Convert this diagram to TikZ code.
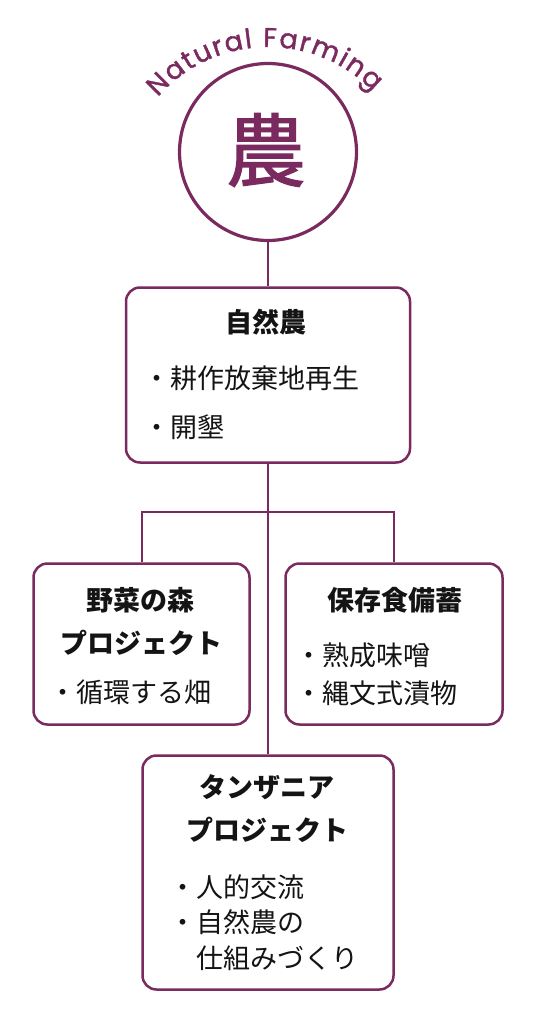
\documentclass[tikz,border=0pt]{standalone}
\usepackage{fontspec}
\setmainfont{Noto Sans CJK JP}
\newfontfamily\natfont{Poppins}[FakeBold=1.5]
\newfontfamily\kanjifont{Noto Sans CJK JP}[FakeBold=1.5]
\usetikzlibrary{decorations.text}
\definecolor{FarmPlum}{HTML}{7A2A5E}
\definecolor{FarmInk}{HTML}{141414}

\begin{document}
\begin{tikzpicture}[x=1pt,y=1pt,
    farmbox/.style={draw=FarmPlum,line width=2.5pt,rounded corners=14pt,fill=white,inner sep=0pt},
    link/.style={draw=FarmPlum,line width=2pt},
    headtext/.style={font=\fontsize{27}{32}\selectfont\bfseries,text=FarmInk,inner sep=0pt},
    itemtext/.style={font=\fontsize{27}{32}\selectfont,text=FarmInk,inner sep=0pt,anchor=west}]
        \useasboundingbox (0,0) rectangle (536,-1024);

        \node[circle,draw=FarmPlum,line width=3.2pt,minimum size=177pt,inner sep=0pt] (logo) at (268,-152) {};
        \node[font=\kanjifont\fontsize{80}{80}\selectfont,text=FarmPlum] (kanji) at (266,-150) {農};
        \path[decorate,font=\natfont\fontsize{27}{27}\selectfont,
          decoration={text along path,text align=fit to path,
            text={|\natfont\fontsize{27}{27}\selectfont\color{FarmPlum}|Natural Farming}}]
          (268,-193) ++(139:146) arc[start angle=139,end angle=44,radius=146];

        \node[farmbox,minimum width=284pt,minimum height=175pt] (nouen) at (268,-375) {};
        \node[farmbox,minimum width=216pt,minimum height=161pt] (yasai) at (141.5,-644) {};
        \node[farmbox,minimum width=217pt,minimum height=161pt] (hozon) at (394,-644) {};
        \node[farmbox,minimum width=251pt,minimum height=234pt] (tanzania) at (268,-872.5) {};

        \coordinate (fork) at (268,-512);
        \draw[link] (logo) -- (nouen);
        \draw[link] (nouen) -- (tanzania);
        \draw[link] (yasai.north) |- (fork) -| (hozon.north);

        \node[headtext] (nouenhead) at (266,-322) {自然農};
        \node[itemtext] (nouenitema) at (143,-378) {・耕作放棄地再生};
        \node[itemtext] (nouenitemb) at (143,-427) {・開墾};

        \node[headtext] (yasaihead) at (140,-600) {野菜の森};
        \node[headtext] (yasaisub) at (141,-643) {プロジェクト};
        \node[itemtext] (yasaiitem) at (49,-692) {・循環する畑};

        \node[headtext] (hozonhead) at (395,-600) {保存食備蓄};
        \node[itemtext] (hozonitema) at (295,-655) {・熟成味噌};
        \node[itemtext] (hozonitemb) at (295,-693) {・縄文式漬物};

        \node[headtext] (tanzhead) at (267,-787) {タンザニア};
        \node[headtext] (tanzsub) at (267,-830) {プロジェクト};
        \node[itemtext] (tanzitema) at (169,-887) {・人的交流};
        \node[itemtext] (tanzitemb) at (169,-922) {・自然農の};
        \node[itemtext] (tanzitemc) at (196,-958) {仕組みづくり};
      \end{tikzpicture}
\end{document}
